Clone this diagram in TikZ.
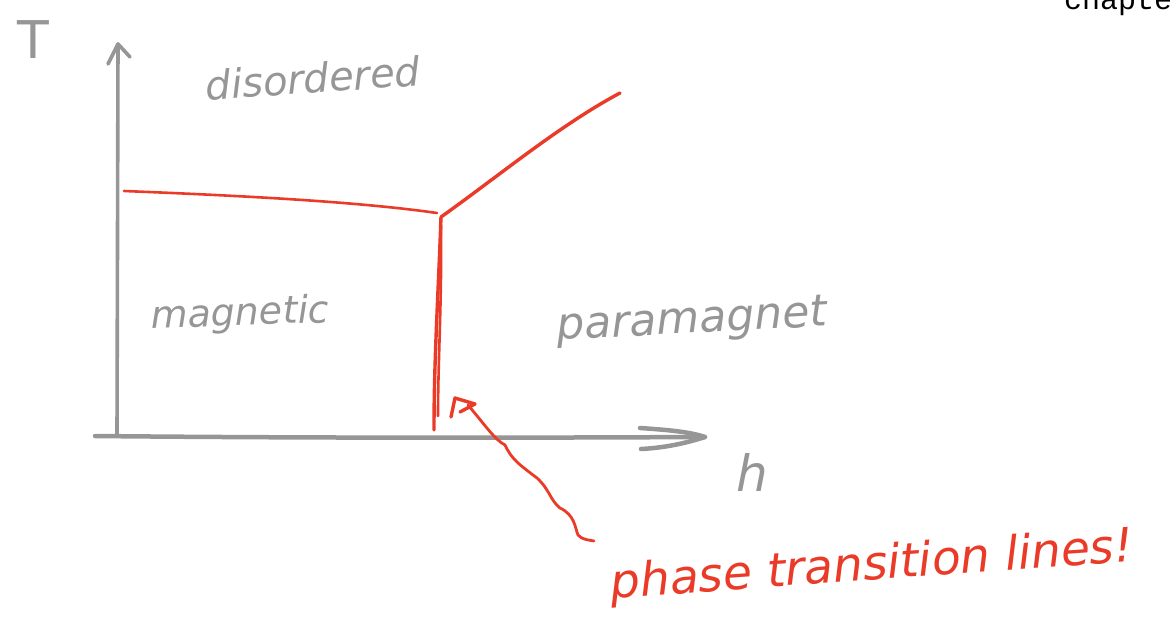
\documentclass[tikz,border=0pt]{standalone}
\usepackage{fontspec}
\newfontfamily\monof{Liberation Mono}
\newfontfamily\handf{DejaVu Sans}
\definecolor{pen}{HTML}{969696}
\definecolor{redpen}{HTML}{EA3A28}
\begin{document}
\begin{tikzpicture}[x=1pt,y=-1pt,
  axis/.style={draw=pen,line width=4.5pt,line cap=round,line join=round},
  rline/.style={draw=redpen,line width=3.4pt,line cap=round,line join=round},
  glabel/.style={text=pen,font=\handf\itshape\fontsize{40}{40}\selectfont,inner sep=0pt},
  rlabel/.style={text=redpen,font=\handf\itshape\fontsize{47}{47}\selectfont,inner sep=0pt}]
\useasboundingbox (0,0) rectangle (1173,616);
\clip (0,0) rectangle (1173,616);
% printed header fragment
\node[anchor=base west,inner sep=0pt,font=\monof\fontsize{30}{30}\selectfont] (hdr) at (1064,9) {chapte};
% axes
\coordinate (yb) at (117,436);
\coordinate (yt) at (118,44);
\coordinate (xl) at (95,436);
\coordinate (xr) at (705,437);
\draw[axis,line width=3.6pt] (yb) -- (yt);
\draw[axis,line width=3.6pt] (108,64) -- (yt) -- (130,57);
\draw[axis] (xl) .. controls (300,438) and (500,438) .. (xr);
\draw[axis] (640,428) .. controls (670,430) and (690,432) .. (xr) .. controls (680,445) and (660,448) .. (641,449);
% axis labels
\node[text=pen,font=\handf\fontsize{52}{52}\selectfont,inner sep=0pt] (T) at (33,40) {T};
\node[glabel,font=\handf\itshape\fontsize{50}{50}\selectfont] (h) at (752,472) {h};
% region labels
\node[glabel,rotate=4] (dis) at (313,78) {disordered};
\node[glabel,font=\handf\itshape\fontsize{38}{38}\selectfont,rotate=2] (mag) at (240,315) {magnetic};
\node[glabel,font=\handf\itshape\fontsize{44}{44}\selectfont,rotate=3] (para) at (692,322) {paramagnet};
% phase transition lines
\coordinate (tri) at (441,217);
\draw[rline,line width=2.6pt] (124,191) .. controls (250,196) and (360,202) .. (437,213);
\draw[rline] (tri) .. controls (500,175) and (560,125) .. (620,93);
\draw[rline] (tri) .. controls (438,300) and (434,360) .. (434,430);
\draw[rline,line width=2.6pt] (441,225) .. controls (442,300) and (438,360) .. (438,416);
% pointer arrow
\coordinate (ah) at (455,398);
\draw[rline] (451,417) -- (ah) -- (475,404) -- (460,412);
\draw[rline,line width=2.8pt] (468,405) .. controls (485,425) and (495,440) .. (505,445)
  .. controls (512,460) and (520,465) .. (537,478)
  .. controls (550,490) and (550,500) .. (560,508)
  .. controls (575,515) and (575,528) .. (578,535)
  .. controls (582,540) and (590,540) .. (594,541);
\node[rlabel,rotate=4] (ptl) at (872,567) {phase transition lines!};
\end{tikzpicture}
\end{document}
